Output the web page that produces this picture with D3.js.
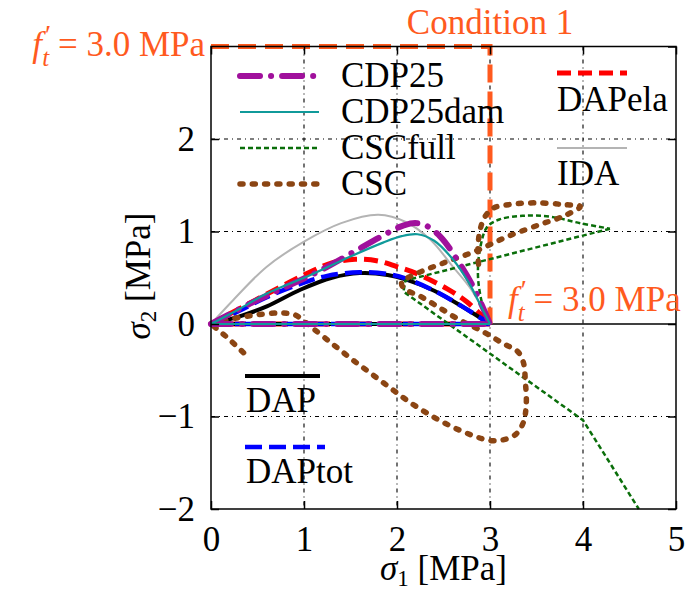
<!DOCTYPE html>
<html>
<head>
<meta charset="utf-8">
<script src="https://cdn.jsdelivr.net/npm/d3@7"></script>
<style>
  body { margin: 0; background: #fff; }
  svg { display: block; font-family: "Liberation Serif", serif; }
</style>
</head>
<body>
<svg id="chart" width="688" height="592"></svg>
<script>
// tick values
const xTicks = [0, 1, 2, 3, 4, 5];
const yTicks = [-2, -1, 0, 1, 2];
const gridX = [1, 2, 3, 4];
const gridY = [-1, 1, 2];

// tensile strength f't [MPa] and the condition-1 path
const ft = 3.0;
const condition1 = [[0, ft], [ft, ft], [ft, 0]];

// uniaxial leg shared by the model curves
const baseLeg = [[0, 0], [3, 0]];

// stress paths (sigma1, sigma2) in MPa
const cdp25 = [[0, 0], [0.42, 0.22], [0.78, 0.39], [1.14, 0.56], [1.5, 0.76], [1.82, 0.94], [2.03, 1.05],
  [2.17, 1.09], [2.3, 1.07], [2.47, 0.94], [2.65, 0.69], [2.8, 0.44], [2.9, 0.23], [3, 0]];
const cdp25dam = [[0, 0], [0.3, 0.16], [0.6, 0.33], [1.07, 0.53], [1.5, 0.73], [1.85, 0.88], [2.05, 0.95],
  [2.22, 0.97], [2.4, 0.9], [2.6, 0.7], [2.77, 0.45], [2.9, 0.2], [3, 0]];
const dapEla = [[0, 0], [0.5, 0.27], [1.0, 0.53], [1.3, 0.66], [1.55, 0.7], [1.8, 0.68], [2.03, 0.61],
  [2.2, 0.55], [2.54, 0.38], [2.75, 0.24], [3, 0]];
const ida = [[0, 0], [0.24, 0.26], [0.6, 0.62], [1.0, 0.89], [1.4, 1.09], [1.8, 1.18], [2.1, 1.1],
  [2.36, 0.91], [2.6, 0.62], [2.8, 0.37], [3, 0]];
const dap = [[0, 0], [0.3, 0.08], [0.6, 0.19], [0.96, 0.37], [1.3, 0.5], [1.6, 0.55], [1.9, 0.53],
  [2.1, 0.48], [2.4, 0.36], [2.7, 0.19], [3, 0]];
const dapTot = [[0, 0], [0.3, 0.14], [0.6, 0.29], [0.95, 0.43], [1.25, 0.52], [1.6, 0.56], [1.9, 0.54],
  [2.1, 0.49], [2.4, 0.36], [2.7, 0.19], [3, 0]];

const cscFullCurve = [[3, 0], [2.97, 0.04], [2.9, 0.29], [2.87, 0.55], [2.9, 0.85], [2.97, 1.05],
  [3.1, 1.13], [3.35, 1.17], [3.65, 1.16], [3.97, 1.09], [4.29, 1.03]];
const cscFullLines = [[4.29, 1.03], [2.09, 0.47], [2.07, 0.35], [4.0, -1.04], [4.6, -2.0]];

const cscTail = [[0.35, -0.31], [0.18, -0.15], [0, 0]];
const cscLoop = [[0, 0], [0.25, 0.06], [0.5, 0.1], [0.75, 0.12], [0.9, 0.1], [1.0, 0.03], [1.1, -0.05],
  [1.3, -0.21], [1.5, -0.37], [1.7, -0.52], [1.9, -0.67], [2.1, -0.82], [2.3, -0.95], [2.55, -1.09],
  [2.8, -1.2], [3.0, -1.26], [3.15, -1.25], [3.28, -1.19], [3.36, -1.06], [3.39, -0.86], [3.38, -0.62],
  [3.36, -0.42], [3.3, -0.3], [3.14, -0.21], [2.92, -0.08], [2.68, 0.04], [2.45, 0.18], [2.25, 0.3],
  [2.08, 0.38], [2.05, 0.45], [2.2, 0.54], [2.5, 0.66], [2.85, 0.79], [3.2, 0.95], [3.55, 1.08],
  [3.8, 1.17], [3.97, 1.27], [3.8, 1.29], [3.5, 1.31], [3.2, 1.29], [3.03, 1.25], [2.94, 1.15],
  [2.89, 1.0], [2.87, 0.8], [2.88, 0.6]];

const W = 688, H = 592;
const margin = {top: 46.5, right: 12, bottom: 83, left: 211};
const orange = "#ff5a1e";

const svg = d3.select("#chart");

const x = d3.scaleLinear().domain([0, 5]).range([margin.left, W - margin.right]);
const y = d3.scaleLinear().domain([-2, 3]).range([H - margin.bottom, margin.top]);

const straight = d3.line().x(d => x(d[0])).y(d => y(d[1]));
const smooth = d3.line().x(d => x(d[0])).y(d => y(d[1])).curve(d3.curveCatmullRom.alpha(0.5));

// grid
svg.append("g").selectAll("line").data(gridX).join("line")
  .attr("x1", d => x(d)).attr("x2", d => x(d))
  .attr("y1", y(3)).attr("y2", y(-2))
  .attr("stroke", "#000").attr("stroke-width", 1.1).attr("stroke-dasharray", "4,4,1,4");
svg.append("g").selectAll("line").data(gridY).join("line")
  .attr("x1", x(0)).attr("x2", x(5))
  .attr("y1", d => y(d)).attr("y2", d => y(d))
  .attr("stroke", "#000").attr("stroke-width", 1.1).attr("stroke-dasharray", "4,4,1,4");
// zero axis
svg.append("line")
  .attr("x1", x(0)).attr("x2", x(5)).attr("y1", y(0)).attr("y2", y(0))
  .attr("stroke", "#000").attr("stroke-width", 1.5);

// condition 1
svg.append("path").attr("d", straight(condition1))
  .attr("fill", "none").attr("stroke", orange).attr("stroke-width", 5)
  .attr("stroke-dasharray", "18,9");

const styles = {
  CDP25:    {color: "#a0109c", width: 6,   dash: "20,11,0.1,11", cap: "round"},
  CDP25dam: {color: "#109a9a", width: 2.2, dash: null},
  CSCfull:  {color: "#0a6e0a", width: 2.5, dash: "5,3"},
  CSC:      {color: "#8b4513", width: 5.5, dash: "3,9.3", cap: "round"},
  DAPela:   {color: "#ff0000", width: 5,   dash: "14,7"},
  IDA:      {color: "#b4b4b4", width: 2,   dash: null},
  DAP:      {color: "#000000", width: 4,   dash: null},
  DAPtot:   {color: "#0000ff", width: 4.5, dash: "17,7"}
};

function draw(key, d) {
  const s = styles[key];
  svg.append("path").attr("d", d)
    .attr("fill", "none").attr("stroke", s.color).attr("stroke-width", s.width)
    .attr("stroke-dasharray", s.dash).attr("stroke-linecap", s.cap || "butt")
    .attr("stroke-linejoin", "round");
}

draw("IDA", straight(baseLeg) + smooth(ida));
draw("DAPela", straight(baseLeg) + smooth(dapEla));
draw("DAP", straight(baseLeg) + smooth(dap));
draw("DAPtot", straight(baseLeg) + smooth(dapTot));
draw("CSCfull", smooth(cscFullCurve) + straight(cscFullLines));
draw("CSC", straight(cscTail) + smooth(cscLoop));
draw("CDP25", straight(baseLeg) + smooth(cdp25));
draw("CDP25dam", straight(baseLeg) + smooth(cdp25dam));

// border
svg.append("rect")
  .attr("x", x(0)).attr("y", y(3)).attr("width", x(5) - x(0)).attr("height", y(-2) - y(3))
  .attr("fill", "none").attr("stroke", "#000").attr("stroke-width", 1.5);

// axes
const fs = 35;
svg.append("g").attr("transform", `translate(0,${y(-2)})`)
  .call(d3.axisBottom(x).tickValues(xTicks).tickSize(-8).tickPadding(17).tickFormat(d3.format("d")));
svg.append("g").attr("transform", `translate(${x(0)},0)`)
  .call(d3.axisLeft(y).tickValues(yTicks).tickSize(-8).tickPadding(16).tickFormat(d3.format("d")));
svg.append("g").attr("transform", `translate(0,${y(3)})`)
  .call(d3.axisTop(x).tickValues(xTicks).tickSize(-8).tickFormat(""));
svg.append("g").attr("transform", `translate(${x(5)},0)`)
  .call(d3.axisRight(y).tickValues(yTicks.concat([3])).tickSize(-8).tickFormat(""));
svg.selectAll(".domain").remove();
svg.selectAll(".tick line").attr("stroke", "#000").attr("stroke-width", 1.5);
svg.selectAll(".tick text").attr("font-family", "Liberation Serif").attr("font-size", fs).attr("fill", "#000");

// axis titles
const xl = svg.append("text").attr("x", (x(0) + x(5)) / 2).attr("y", 580)
  .attr("text-anchor", "middle").attr("font-size", fs);
xl.append("tspan").attr("font-style", "italic").text("σ");
xl.append("tspan").attr("font-size", 23).attr("dy", 6).text("1");
xl.append("tspan").attr("dy", -6).text(" [MPa]");

const yl = svg.append("text").attr("transform", "translate(150,276) rotate(-90)")
  .attr("text-anchor", "middle").attr("font-size", fs);
yl.append("tspan").attr("font-style", "italic").text("σ");
yl.append("tspan").attr("font-size", 23).attr("dy", 6).text("2");
yl.append("tspan").attr("dy", -6).text(" [MPa]");

// f't annotations
function ftLabel(px, py, anchor) {
  const t = svg.append("text").attr("x", px).attr("y", py)
    .attr("text-anchor", anchor).attr("font-size", fs).attr("fill", orange);
  t.append("tspan").attr("font-style", "italic").text("f");
  t.append("tspan").attr("font-size", 28).attr("dy", -12).attr("dx", 3).text("′");
  t.append("tspan").attr("font-style", "italic").attr("font-size", 25).attr("dx", -9).attr("dy", 22).text("t");
  t.append("tspan").attr("dy", -10).text(" = " + ft.toFixed(1) + " MPa");
}
ftLabel(205, 56, "end");
ftLabel(508, 311, "start");

svg.append("text").attr("x", x(ft)).attr("y", 34).attr("text-anchor", "middle")
  .attr("font-size", fs).attr("fill", orange).text("Condition 1");

// legend
const legend = [
  {key: "CDP25",    x1: 240, x2: 319, ly: 76,  tx: 341, ty: 87},
  {key: "CDP25dam", x1: 240, x2: 319, ly: 112, tx: 341, ty: 123},
  {key: "CSCfull",  x1: 240, x2: 319, ly: 148, tx: 341, ty: 159},
  {key: "CSC",      x1: 240, x2: 319, ly: 184, tx: 341, ty: 195},
  {key: "DAPela",   x1: 557, x2: 627, ly: 73,  tx: 557, ty: 111},
  {key: "IDA",      x1: 557, x2: 627, ly: 148, tx: 557, ty: 185},
  {key: "DAP",      x1: 245, x2: 320, ly: 376, tx: 246, ty: 412},
  {key: "DAPtot",   x1: 245, x2: 325, ly: 447, tx: 246, ty: 483}
];
legend.forEach(l => {
  const s = styles[l.key];
  svg.append("line").attr("x1", l.x1).attr("x2", l.x2).attr("y1", l.ly).attr("y2", l.ly)
    .attr("stroke", s.color).attr("stroke-width", s.width)
    .attr("stroke-dasharray", s.dash).attr("stroke-linecap", s.cap || "butt");
  svg.append("text").attr("x", l.tx).attr("y", l.ty).attr("font-size", fs).text(l.key);
});
</script>
</body>
</html>
